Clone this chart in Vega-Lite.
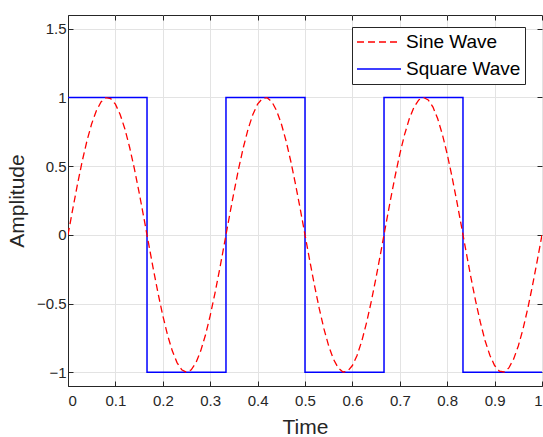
{
  "$schema": "https://vega.github.io/schema/vega-lite/v6.json",
  "autosize": "none",
  "width": 474,
  "height": 371,
  "padding": {"left": 68, "top": 15, "right": 1, "bottom": 51},
  "background": "white",
  "config": {
    "font": "Liberation Sans",
    "view": {"stroke": "#262626", "strokeWidth": 1},
    "axis": {
      "labelFont": "Liberation Sans",
      "titleFont": "Liberation Sans",
      "labelColor": "#262626",
      "titleColor": "#262626",
      "labelFontSize": 15,
      "titleFontSize": 21,
      "titleFontWeight": "normal",
      "domainColor": "#262626",
      "tickColor": "#262626",
      "gridColor": "#e3e3e3",
      "tickSize": -5
    }
  },
  "datasets": {
    "sine": [
      {"t":0,"y":0},{"t":0.01,"y":0.1874},{"t":0.02,"y":0.3681},{"t":0.03,"y":0.5358},{"t":0.04,"y":0.6845},{"t":0.05,"y":0.809},{"t":0.06,"y":0.9048},{"t":0.07,"y":0.9686},{"t":0.08,"y":0.998},{"t":0.09,"y":0.9921},
      {"t":0.1,"y":0.9511},{"t":0.11,"y":0.8763},{"t":0.12,"y":0.7705},{"t":0.13,"y":0.6374},{"t":0.14,"y":0.4818},{"t":0.15,"y":0.309},{"t":0.16,"y":0.1253},{"t":0.17,"y":-0.0628},{"t":0.18,"y":-0.2487},{"t":0.19,"y":-0.4258},
      {"t":0.2,"y":-0.5878},{"t":0.21,"y":-0.729},{"t":0.22,"y":-0.8443},{"t":0.23,"y":-0.9298},{"t":0.24,"y":-0.9823},{"t":0.25,"y":-1},{"t":0.26,"y":-0.9823},{"t":0.27,"y":-0.9298},{"t":0.28,"y":-0.8443},{"t":0.29,"y":-0.729},
      {"t":0.3,"y":-0.5878},{"t":0.31,"y":-0.4258},{"t":0.32,"y":-0.2487},{"t":0.33,"y":-0.0628},{"t":0.34,"y":0.1253},{"t":0.35,"y":0.309},{"t":0.36,"y":0.4818},{"t":0.37,"y":0.6374},{"t":0.38,"y":0.7705},{"t":0.39,"y":0.8763},
      {"t":0.4,"y":0.9511},{"t":0.41,"y":0.9921},{"t":0.42,"y":0.998},{"t":0.43,"y":0.9686},{"t":0.44,"y":0.9048},{"t":0.45,"y":0.809},{"t":0.46,"y":0.6845},{"t":0.47,"y":0.5358},{"t":0.48,"y":0.3681},{"t":0.49,"y":0.1874},
      {"t":0.5,"y":0},{"t":0.51,"y":-0.1874},{"t":0.52,"y":-0.3681},{"t":0.53,"y":-0.5358},{"t":0.54,"y":-0.6845},{"t":0.55,"y":-0.809},{"t":0.56,"y":-0.9048},{"t":0.57,"y":-0.9686},{"t":0.58,"y":-0.998},{"t":0.59,"y":-0.9921},
      {"t":0.6,"y":-0.9511},{"t":0.61,"y":-0.8763},{"t":0.62,"y":-0.7705},{"t":0.63,"y":-0.6374},{"t":0.64,"y":-0.4818},{"t":0.65,"y":-0.309},{"t":0.66,"y":-0.1253},{"t":0.67,"y":0.0628},{"t":0.68,"y":0.2487},{"t":0.69,"y":0.4258},
      {"t":0.7,"y":0.5878},{"t":0.71,"y":0.729},{"t":0.72,"y":0.8443},{"t":0.73,"y":0.9298},{"t":0.74,"y":0.9823},{"t":0.75,"y":1},{"t":0.76,"y":0.9823},{"t":0.77,"y":0.9298},{"t":0.78,"y":0.8443},{"t":0.79,"y":0.729},
      {"t":0.8,"y":0.5878},{"t":0.81,"y":0.4258},{"t":0.82,"y":0.2487},{"t":0.83,"y":0.0628},{"t":0.84,"y":-0.1253},{"t":0.85,"y":-0.309},{"t":0.86,"y":-0.4818},{"t":0.87,"y":-0.6374},{"t":0.88,"y":-0.7705},{"t":0.89,"y":-0.8763},
      {"t":0.9,"y":-0.9511},{"t":0.91,"y":-0.9921},{"t":0.92,"y":-0.998},{"t":0.93,"y":-0.9686},{"t":0.94,"y":-0.9048},{"t":0.95,"y":-0.809},{"t":0.96,"y":-0.6845},{"t":0.97,"y":-0.5358},{"t":0.98,"y":-0.3681},{"t":0.99,"y":-0.1874},
      {"t":1,"y":0}
    ],
    "square": [
      {"t":0,"y":1},{"t":0.1667,"y":-1},{"t":0.3333,"y":1},{"t":0.5,"y":-1},{"t":0.6667,"y":1},{"t":0.8333,"y":-1},{"t":1,"y":-1}
    ]
  },
  "layer": [
    {
      "data": {"name": "square"},
      "transform": [{"calculate": "'Square Wave'", "as": "series"}],
      "mark": {"type": "line", "interpolate": "step-after", "strokeWidth": 1.5, "clip": true},
      "encoding": {
        "x": {"field": "t", "type": "quantitative", "scale": {"domain": [0, 1], "nice": false},
              "axis": {"title": "Time", "values": [0,0.1,0.2,0.3,0.4,0.5,0.6,0.7,0.8,0.9,1], "format": "~g", "labelPadding": 12, "titlePadding": 8, "labelFontSize": 15}},
        "y": {"field": "y", "type": "quantitative", "scale": {"domain": [-1.1, 1.6], "nice": false, "zero": false},
              "axis": {"title": "Amplitude", "values": [-1,-0.5,0,0.5,1,1.5], "format": "~g", "labelPadding": 7, "titlePadding": 9, "labelFontSize": 15}},
        "color": {"field": "series", "type": "nominal",
                  "scale": {"domain": ["Sine Wave", "Square Wave"], "range": ["#ff0000", "#0000ff"]},
                  "legend": {"title": null, "orient": "none", "legendX": 284, "legendY": 12,
                             "symbolType": "stroke", "symbolSize": 1936, "symbolStrokeWidth": 1.5, "clipHeight": 22,
                             "labelFontSize": 19, "labelColor": "#000000", "labelFont": "Liberation Sans",
                             "strokeColor": "#262626", "fillColor": "white", "padding": 4, "rowPadding": 5, "labelOffset": 4}},
        "strokeDash": {"field": "series", "type": "nominal",
                       "scale": {"domain": ["Sine Wave", "Square Wave"], "range": [[7, 4], [1, 0]]},
                       "legend": {"title": null, "orient": "none", "legendX": 284, "legendY": 12}}
      }
    },
    {
      "data": {"name": "sine"},
      "transform": [{"calculate": "'Sine Wave'", "as": "series"}],
      "mark": {"type": "line", "strokeWidth": 1.3, "clip": true},
      "encoding": {
        "x": {"field": "t", "type": "quantitative",
              "axis": {"orient": "top", "title": null, "labels": false, "grid": false, "domain": false, "values": [0,0.1,0.2,0.3,0.4,0.5,0.6,0.7,0.8,0.9,1]}},
        "y": {"field": "y", "type": "quantitative",
              "axis": {"orient": "right", "title": null, "labels": false, "grid": false, "domain": false, "values": [-1,-0.5,0,0.5,1,1.5]}},
        "color": {"field": "series", "type": "nominal"},
        "strokeDash": {"field": "series", "type": "nominal"}
      }
    }
  ],
  "resolve": {"axis": {"x": "independent", "y": "independent"}}
}
